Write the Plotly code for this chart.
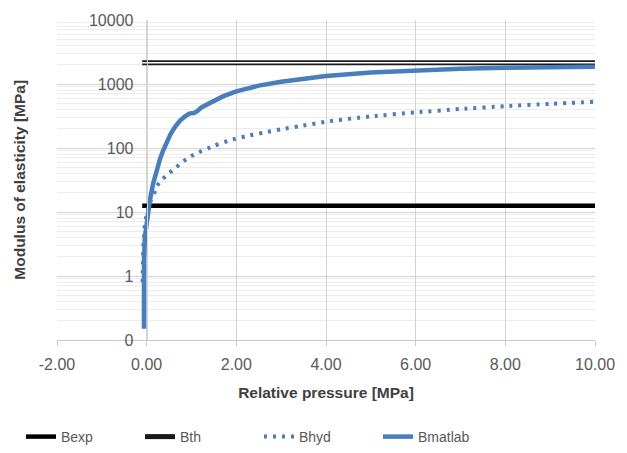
import plotly.graph_objects as go

# Relative pressure [MPa] and modulus of elasticity [MPa] for each series
p_exp = [-0.1, 10.0]
b_exp = [12.5, 12.5]

p_th = [-0.1, 10.0]
b_th = [2150, 2150]

p_hyd = [-0.09, -0.09, -0.085, -0.08, -0.075, -0.06, -0.05, -0.02, 0.03, 0.1, 0.15,
         0.22, 0.34, 0.5, 0.66, 0.82, 0.98, 1.13, 1.5, 1.85, 2.2, 2.59, 3.0, 3.4,
         4.0, 5.0, 6.0, 7.0, 8.0, 9.0, 10.0]
b_hyd = [0.8, 1.08, 1.5, 2.07, 2.9, 3.9, 5.4, 7.7, 11, 15.5, 18,
         25, 32, 40.5, 50, 62, 74, 84, 108, 132, 152, 173, 196, 218,
         258, 312, 360, 407, 450, 490, 528]

p_mat = [-0.06, -0.065, -0.06, -0.04, 0.02, 0.07, 0.14, 0.23, 0.3, 0.36, 0.45,
         0.53, 0.63, 0.74, 0.85, 0.95, 1.05, 1.12, 1.22, 1.3, 1.47, 1.7, 2.0,
         2.25, 2.5, 3.0, 3.5, 4.0, 5.0, 6.0, 7.0, 8.0, 9.0, 10.0]
b_mat = [0.15, 0.76, 1.74, 4.0, 8.8, 15, 27, 49, 68, 89, 126,
         164, 212, 266, 310, 345, 352, 372, 430, 462, 541, 640, 767,
         861, 944, 1084, 1216, 1334, 1514, 1641, 1730, 1791, 1832, 1862]

x_ticks = [-2, 0, 2, 4, 6, 8, 10]
x_tick_text = ["-2.00", "0.00", "2.00", "4.00", "6.00", "8.00", "10.00"]
y_ticks = [0.1, 1, 10, 100, 1000, 10000]
y_tick_text = ["0", "1", "10", "100", "1000", "10000"]

BLUE = "#4a7ebb"
TXT = "#595959"
FONT = "Liberation Sans"

fig = go.Figure()

fig.add_trace(go.Scatter(
    x=p_exp, y=b_exp, name="Bexp", mode="lines",
    line=dict(color="black", width=4.5),
))

# double line: dark outline with a white core; the white line-ew marker
# gives the legend swatch the same hollow look (markers hidden on the plot)
fig.add_trace(go.Scatter(
    x=p_th, y=b_th, name="Bth", mode="lines+markers",
    line=dict(color="#1a1a1a", width=5),
    marker=dict(symbol="line-ew-open", size=16,
                line=dict(color="white", width=2)),
    selectedpoints=[],
    unselected=dict(marker=dict(opacity=0)),
))
fig.add_trace(go.Scatter(
    x=p_th, y=b_th, mode="lines", showlegend=False, hoverinfo="skip",
    line=dict(color="white", width=1.6),
))

fig.add_trace(go.Scatter(
    x=p_hyd, y=b_hyd, name="Bhyd", mode="lines",
    line=dict(color=BLUE, width=4, dash="3px,6px", shape="spline", smoothing=0.5),
))

fig.add_trace(go.Scatter(
    x=p_mat, y=b_mat, name="Bmatlab", mode="lines",
    line=dict(color=BLUE, width=4.5),
))

fig.update_layout(
    width=627, height=453,
    margin=dict(l=57, r=22, t=18, b=113),
    paper_bgcolor="white", plot_bgcolor="white",
    font=dict(family=FONT, color=TXT),
    showlegend=True,
    legend=dict(
        orientation="h",
        xref="container", yref="container",
        x=21 / 627, xanchor="left",
        y=1 - 437 / 453, yanchor="middle",
        entrywidth=74, entrywidthmode="pixels",
        font=dict(size=14, color=TXT, family=FONT),
        bgcolor="rgba(0,0,0,0)",
        itemclick=False,
    ),
    xaxis=dict(
        range=[-2, 10],
        tickvals=x_ticks, ticktext=x_tick_text,
        tickfont=dict(size=16, color=TXT),
        showgrid=True, gridcolor="#d3d3d3", gridwidth=1,
        zeroline=False,
        showline=True, linecolor="#c8c8c8", linewidth=1,
        ticks="outside", ticklen=5, tickcolor="#c8c8c8",
        ticklabelstandoff=5,
        title=dict(text="<b>Relative pressure [MPa]</b>",
                   font=dict(size=15.5, color="#404040"), standoff=14),
    ),
    yaxis=dict(
        type="log", range=[-1, 4],
        anchor="free", position=1 / 6,
        tickvals=y_ticks, ticktext=y_tick_text,
        tickfont=dict(size=16, color=TXT),
        showgrid=True, gridcolor="#d3d3d3", gridwidth=1,
        minor=dict(dtick="D1", showgrid=True, gridcolor="#ececec", gridwidth=1),
        zeroline=False,
        showline=True, linecolor="#d3d3d3", linewidth=1,
        ticks="", ticklabelstandoff=10,
    ),
    annotations=[dict(
        text="<b>Modulus of elasticity [MPa]</b>",
        xref="paper", yref="paper",
        x=-39 / 548, y=0.5, xanchor="center", yanchor="middle",
        textangle=-90, showarrow=False,
        font=dict(size=15.5, color="#404040", family=FONT),
    )],
)

fig.write_html("out.html")
